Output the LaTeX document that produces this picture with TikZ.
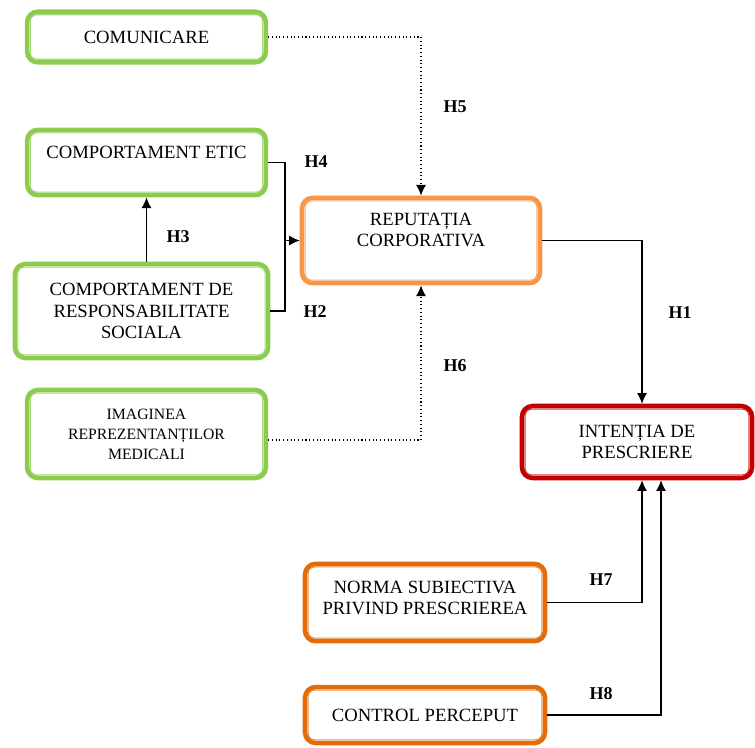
\documentclass[tikz,border=0pt]{standalone}
\usepackage{fontspec}
\setmainfont{Liberation Serif}
\usetikzlibrary{arrows.meta,positioning}
\definecolor{Green}{HTML}{8CCB50}
\definecolor{Orange}{HTML}{F79646}
\definecolor{Rust}{HTML}{E36C0A}
\definecolor{Red}{HTML}{C00000}

\begin{document}
\begin{tikzpicture}[x=0.75pt,y=-0.75pt,
    factor/.style={rounded corners=8pt,line width=3.4pt,fill=white,align=center,
      inner sep=2pt,font=\fontsize{14}{16}\selectfont},
    hyp/.style={font=\fontsize{13.5}{16}\selectfont\bfseries,inner sep=1pt},
    link/.style={line width=0.8pt,-{Latex[length=8pt,width=7.5pt]}}
  ]
    \useasboundingbox (0,0) rectangle (755,747);
    \node[factor,draw=Green,minimum width=179pt,minimum height=38pt] (comm) at (146.5,37)
      {COMUNICARE};
    \node[factor,draw=Green,minimum width=179pt,minimum height=49pt] (etic) at (146.5,162.5)
      {COMPORTAMENT ETIC\\ \mbox{}};
    \node[factor,draw=Green,minimum width=190pt,minimum height=70.5pt] (social) at (141.5,311)
      {COMPORTAMENT DE\\ RESPONSABILITATE\\ SOCIALA};
    \node[factor,draw=Green,minimum width=179pt,minimum height=66pt,
      font=\fontsize{11.8}{15}\selectfont] (imag) at (146.5,434)
      {IMAGINEA\\ REPREZENTANȚILOR\\ MEDICALI};
    \node[factor,draw=Orange,minimum width=178.5pt,minimum height=64pt] (reput) at (421,240.5)
      {REPUTAȚIA\\ CORPORATIVA\\ \mbox{}};
    \node[factor,draw=Red,minimum width=172.5pt,minimum height=54pt] (intent) at (637,442)
      {INTENȚIA DE\\ PRESCRIERE};
    \node[factor,draw=Rust,minimum width=180pt,minimum height=58pt] (norm) at (425,602.5)
      {NORMA SUBIECTIVA\\ PRIVIND PRESCRIEREA\\[-9pt] \mbox{}};
    \node[factor,draw=Rust,minimum width=180pt,minimum height=42pt] (ctrl) at (425,715)
      {CONTROL PERCEPUT};

    \foreach \n/\c in {comm/Green,etic/Green,social/Green,imag/Green,
        reput/Orange,intent/Red,norm/Rust,ctrl/Rust}
      \draw[\c!75,line width=0.8pt,rounded corners=5pt]
        ([shift={(4pt,4pt)}]\n.south west) rectangle ([shift={(-4pt,-4pt)}]\n.north east);

    \coordinate (join) at (285,240.5);
    \draw[link,dotted] (comm.east) -| (reput.north);
    \draw[line width=0.8pt] (etic.east) -| (join);
    \draw[line width=0.8pt] (social.east) -| (join);
    \draw[link] (join) -- (reput.west);
    \draw[link] (social.north -| etic.south) -- (etic.south);
    \draw[link,dotted] ([yshift=-4.5pt]imag.east) -| (reput.south);
    \draw[link] (reput.east) -| ([xshift=3.75pt]intent.north);
    \draw[link] (norm.east) -| ([xshift=3.75pt]intent.south);
    \draw[link] (ctrl.east) -| ([xshift=18pt]intent.south);

    \node[hyp] (h1) at (680,313) {H1};
    \node[hyp] (h2) at (315,312) {H2};
    \node[hyp] (h3) at (178,237) {H3};
    \node[hyp] (h4) at (316,162) {H4};
    \node[hyp] (h5) at (455,107) {H5};
    \node[hyp] (h6) at (455,366) {H6};
    \node[hyp] (h7) at (601,580) {H7};
    \node[hyp] (h8) at (601,694) {H8};
  \end{tikzpicture}
\end{document}
